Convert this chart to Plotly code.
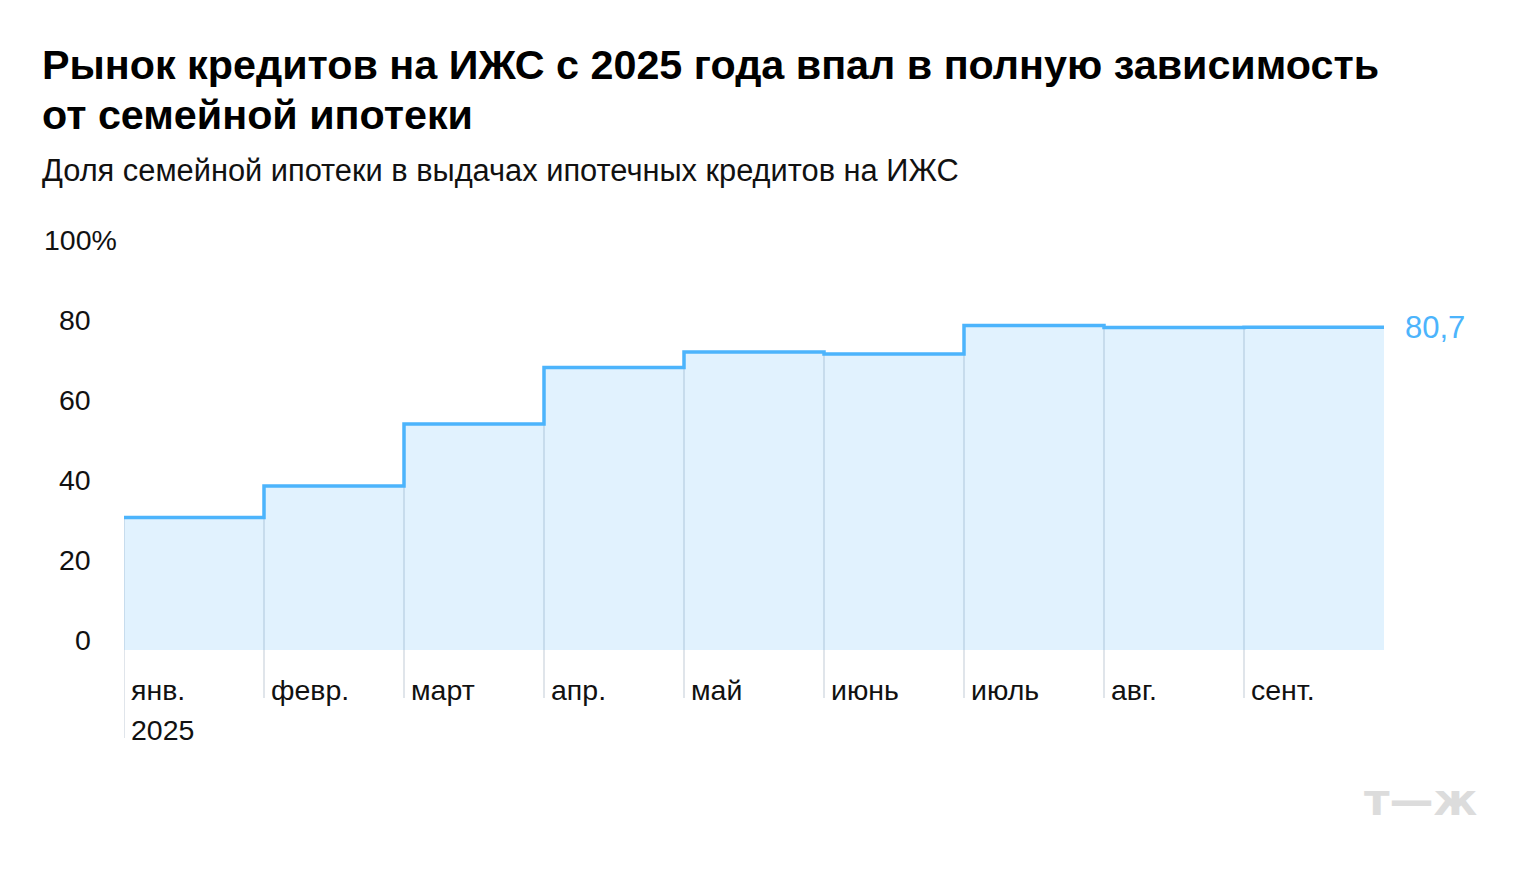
import plotly.graph_objects as go

# ---- data ----
months = ["янв.", "февр.", "март", "апр.", "май", "июнь", "июль", "авг.", "сент."]
year_label = "2025"
share = [33.1, 41.0, 56.5, 70.6, 74.5, 74.0, 81.1, 80.6, 80.7]
y_tick_vals = [0, 20, 40, 60, 80, 100]
y_tick_text = ["0", "20", "40", "60", "80", "100%"]
last_label = "80,7"

title_lines = ["Рынок кредитов на ИЖС с 2025 года впал в полную зависимость",
               "от семейной ипотеки"]
subtitle = "Доля семейной ипотеки в выдачах ипотечных кредитов на ИЖС"

FONT = "Liberation Sans"
LINE = "#4cb4fc"
FILL = "rgba(76,180,252,0.17)"
GRID = "#d3dae2"

PLOT_TOP, PLOT_BOTTOM = 246, 750
W, H = 1520, 870
L, R = 124, 1384
ph = PLOT_BOTTOM - PLOT_TOP


def py(pix):
    return (PLOT_BOTTOM - pix) / ph


def px(pix):
    return (pix - L) / (R - L)


x_idx = list(range(len(months)))
x_step = x_idx + [len(months)]
y_step = share + [share[-1]]

fig = go.Figure()
fig.add_trace(go.Scatter(
    x=x_step, y=y_step, mode="lines", line=dict(shape="hv", color=LINE, width=3.5),
    fill="tozeroy", fillcolor=FILL, hoverinfo="skip", showlegend=False,
))

shapes = []
for i, v in zip(x_idx, share):
    shapes.append(dict(type="line", xref="x", yref="y", x0=i, x1=i, y0=v,
                       y1=-22 if i == 0 else -12, line=dict(color=GRID, width=1.4),
                       layer="below"))

ann = []
for v, t in zip(y_tick_vals, y_tick_text):
    shift = -5 if t.endswith("%") else -31
    ann.append(dict(x=0, xref="paper", y=v, yref="y", text=t, showarrow=False,
                    xanchor="right", yanchor="middle", xshift=shift, yshift=10,
                    font=dict(family=FONT, size=28.5, color="#111")))
for i, m in zip(x_idx, months):
    ann.append(dict(x=i, xref="x", y=0, yref="y", text=m, showarrow=False,
                    xanchor="left", yanchor="middle", xshift=5, yshift=-40,
                    font=dict(family=FONT, size=28.5, color="#111")))
ann.append(dict(x=0, xref="x", y=0, yref="y", text=year_label, showarrow=False,
                xanchor="left", yanchor="middle", xshift=5, yshift=-80,
                font=dict(family=FONT, size=28.5, color="#111")))
ann.append(dict(x=len(months), xref="x", y=share[-1], yref="y", text=last_label,
                showarrow=False, xanchor="left", yanchor="middle", xshift=19, yshift=0,
                font=dict(family=FONT, size=31, color=LINE)))
for k, line in enumerate(title_lines):
    ann.append(dict(x=px(40), xref="paper", y=py(65 + 50 * k), yref="paper",
                    text="<b>" + line + "</b>", showarrow=False,
                    xanchor="left", yanchor="middle",
                    font=dict(family=FONT, size=41.3, color="#000")))
ann.append(dict(x=px(40), xref="paper", y=py(170), yref="paper", text=subtitle,
                showarrow=False, xanchor="left", yanchor="middle",
                font=dict(family=FONT, size=30.8, color="#111")))
ann.append(dict(x=px(1480), xref="paper", y=py(799), yref="paper", text="<b>т—ж</b>",
                showarrow=False, xanchor="right", yanchor="middle",
                font=dict(family="DejaVu Sans", size=44, color="#dcdcdc")))

fig.update_layout(
    width=W, height=H,
    margin=dict(l=L, r=W - R, t=PLOT_TOP, b=H - PLOT_BOTTOM, pad=0),
    paper_bgcolor="white", plot_bgcolor="white",
    xaxis=dict(range=[0, len(months)], showgrid=False, zeroline=False, showticklabels=False,
               ticks="", showline=False, fixedrange=True),
    yaxis=dict(range=[-25, 101], showgrid=False, zeroline=False, showticklabels=False,
               ticks="", showline=False, fixedrange=True),
    shapes=shapes, annotations=ann,
)

fig.write_html("out.html")
